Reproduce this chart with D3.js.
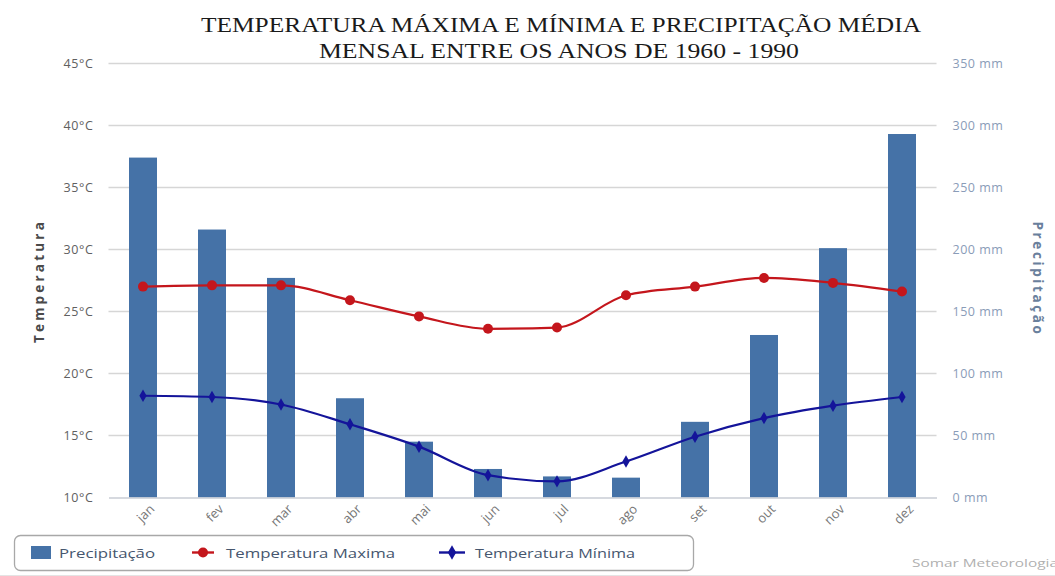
<!DOCTYPE html>
<html><head><meta charset="utf-8">
<script src="https://cdnjs.cloudflare.com/ajax/libs/d3/7.8.5/d3.min.js"></script>
<style>body{margin:0;background:#fff}svg{display:block}</style>
</head><body>
<svg id="c" width="1055" height="576"></svg>
<script>
const months = ["jan","fev","mar","abr","mai","jun","jul","ago","set","out","nov","dez"];
const precip = [274, 216, 177, 80, 45, 23, 17, 16, 61, 131, 201, 293];
const tmax = [27.0, 27.1, 27.1, 25.9, 24.6, 23.6, 23.7, 26.3, 27.0, 27.7, 27.3, 26.6];
const tmin = [18.2, 18.1, 17.5, 15.9, 14.1, 11.8, 11.3, 12.9, 14.9, 16.4, 17.4, 18.1];
const tempTicks = [10, 15, 20, 25, 30, 35, 40, 45];
const precTicks = [0, 50, 100, 150, 200, 250, 300, 350];
const titleLines = ["TEMPERATURA MÁXIMA E MÍNIMA E PRECIPITAÇÃO MÉDIA", "MENSAL ENTRE OS ANOS DE 1960 - 1990"];
const seriesNames = ["Precipitação", "Temperatura Maxima", "Temperatura Mínima"];

const svg = d3.select("#c");
const L = 108.5, R = 936.5, T = 63.3, B = 497.5;
const font = "'Open Sans', 'DejaVu Sans', sans-serif";
const colBar = "#4572a7", colMax = "#c4161c", colMin = "#14149a";

const x = d3.scaleBand().domain(months).range([L, R]).paddingInner(0).paddingOuter(0);
const yT = d3.scaleLinear().domain([10, 45]).range([B, T]);
const yP = d3.scaleLinear().domain([0, 350]).range([B, T]);

// title
const titleLen = [720, 480];
svg.append("g").selectAll("text").data(titleLines).join("text")
  .attr("y", (d,i)=> 32 + i*26)
  .attr("x", (d,i)=> (i===0 ? 201 : 319))
  .attr("textLength",(d,i)=>titleLen[i]).attr("lengthAdjust","spacingAndGlyphs")
  .attr("font-family","'Liberation Serif','Times New Roman',serif")
  .attr("font-size", 21.5).attr("fill","#1a1a1a").text(d=>d);

// grid
svg.append("g").selectAll("line").data(tempTicks.filter(t=>t>10)).join("line")
  .attr("x1", L).attr("x2", R).attr("y1", d=>Math.round(yT(d))+0.5).attr("y2", d=>Math.round(yT(d))+0.5)
  .attr("stroke","#d6d6d6").attr("stroke-width",1.5);

// left axis
const gl = svg.append("g").attr("transform",`translate(${L-12},0)`)
  .call(d3.axisLeft(yT).tickValues(tempTicks).tickSize(0).tickFormat(d=>d+"°C"));
gl.select(".domain").remove();
gl.selectAll("text").attr("font-family",font).attr("font-size",12.5).attr("fill","#606060").attr("dy","0.35em").attr("letter-spacing","0.6");

// right axis
const gr = svg.append("g").attr("transform",`translate(${R+13},0)`)
  .call(d3.axisRight(yP).tickValues(precTicks).tickSize(0).tickFormat(d=>d+" mm"));
gr.select(".domain").remove();
gr.selectAll("text").attr("font-family",font).attr("font-size",12.5).attr("fill","#8a9cb8").attr("dy","0.35em").attr("letter-spacing","0.5");

// axis titles
svg.append("text").attr("transform","translate(44,281) rotate(-90)").attr("text-anchor","middle")
  .attr("font-family",font).attr("font-weight","bold").attr("font-size",13.5).attr("letter-spacing","3.2")
  .attr("fill","#4a4a4a").text("Temperatura");
svg.append("text").attr("transform","translate(1033,279) rotate(90)").attr("text-anchor","middle")
  .attr("font-family",font).attr("font-weight","bold").attr("font-size",13.5).attr("letter-spacing","2.6")
  .attr("fill","#6a809c").text("Precipitação");

// bars
const bw = 28;
svg.append("g").selectAll("rect").data(precip).join("rect")
  .attr("x",(d,i)=>x(months[i])+x.bandwidth()/2-bw/2).attr("width",bw)
  .attr("y",d=>yP(d)).attr("height",d=>B-yP(d)).attr("fill",colBar);

// x axis
const gx = svg.append("g").attr("transform",`translate(0,${B})`)
  .call(d3.axisBottom(x).tickSize(0).tickSizeOuter(0));
gx.select(".domain").attr("stroke","#c8ccd4").attr("stroke-width",1.5);
gx.selectAll("text").attr("font-family",font).attr("font-size",13).attr("fill","#777")
  .attr("text-anchor","end").attr("dy","0.35em")
  .attr("transform","translate(7,7) rotate(-45)");

// lines
const line = d3.line().x((d,i)=>x(months[i])+x.bandwidth()/2).curve(d3.curveMonotoneX);
svg.append("path").datum(tmax).attr("d", line.y(d=>yT(d))).attr("fill","none").attr("stroke",colMax).attr("stroke-width",2.2);
svg.append("path").datum(tmin).attr("d", line.y(d=>yT(d))).attr("fill","none").attr("stroke",colMin).attr("stroke-width",2.2);
svg.append("g").selectAll("circle").data(tmax).join("circle")
  .attr("cx",(d,i)=>x(months[i])+x.bandwidth()/2).attr("cy",d=>yT(d)).attr("r",5).attr("fill",colMax);
const diamond = d3.symbol().type(d3.symbolDiamond).size(45);
svg.append("g").selectAll("path").data(tmin).join("path")
  .attr("transform",(d,i)=>`translate(${x(months[i])+x.bandwidth()/2},${yT(d)})`).attr("d",diamond).attr("fill",colMin);

// legend
const lg = svg.append("g");
lg.append("rect").attr("x",14.5).attr("y",535.5).attr("width",679).attr("height",35).attr("rx",6)
  .attr("fill","#fff").attr("stroke","#a8a8a8").attr("stroke-width",1.3);
lg.append("rect").attr("x",31).attr("y",546).attr("width",20).attr("height",13).attr("fill",colBar);
const legX = [59, 226, 475];
const legLen = [96, 169, 160];
lg.append("line").attr("x1",192).attr("x2",214).attr("y1",552.5).attr("y2",552.5).attr("stroke",colMax).attr("stroke-width",2.4);
lg.append("circle").attr("cx",203).attr("cy",552.5).attr("r",5).attr("fill",colMax);
lg.append("line").attr("x1",439).attr("x2",465).attr("y1",552.5).attr("y2",552.5).attr("stroke",colMin).attr("stroke-width",2.4);
lg.append("path").attr("transform","translate(452,552.5)").attr("d",d3.symbol().type(d3.symbolDiamond).size(60)).attr("fill",colMin);
lg.selectAll("text.l").data(seriesNames).join("text").attr("class","l")
  .attr("x",(d,i)=>legX[i]).attr("y",557.5).attr("font-family",font).attr("font-size",13.5)
  .attr("textLength",(d,i)=>legLen[i]).attr("lengthAdjust","spacingAndGlyphs")
  .attr("fill","#46566e").text(d=>d);

// credits
svg.append("text").attr("x",912).attr("y",567)
  .attr("font-family",font).attr("font-size",11).attr("fill","#b0b0b0")
  .attr("textLength",146).attr("lengthAdjust","spacingAndGlyphs").text("Somar Meteorologia");
svg.append("line").attr("x1",0).attr("x2",1055).attr("y1",575.5).attr("y2",575.5).attr("stroke","#e4e4e4");
</script>
</body></html>
